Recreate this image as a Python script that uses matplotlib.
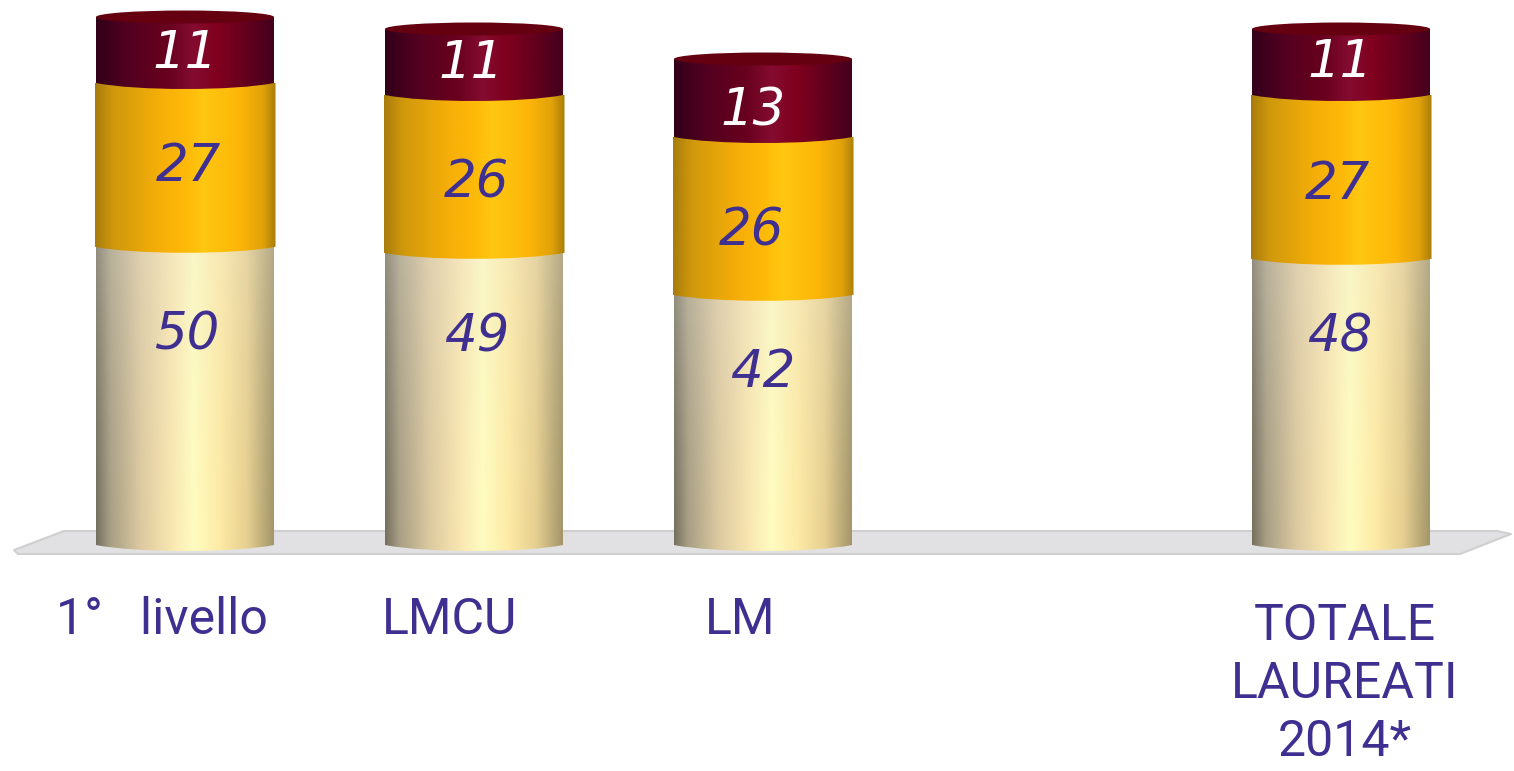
import numpy as np
import matplotlib
matplotlib.use("Agg")
import matplotlib.pyplot as plt
from matplotlib.colors import LinearSegmentedColormap, to_rgb
from matplotlib.patches import Ellipse, PathPatch, Polygon
from matplotlib.path import Path

categories = ["1°   livello", "LMCU", "LM", "", "TOTALE\nLAUREATI\n2014*"]
cream_vals = [50, 49, 42, None, 48]
gold_vals = [27, 26, 26, None, 27]
maroon_vals = [11, 11, 13, None, 11]

# px per value is 6, px per category is 289
W, H = 1514, 771
X0, Y0 = 185, 545
PX_X, PX_Y = 289.0, 6.0

cream_map = LinearSegmentedColormap.from_list("cream", [(0, "#76705f"), (0.08, "#a89f85"), (0.25, "#dcc9a0"), (0.42, "#f8e6b0"),
                                                        (0.55, "#fffcc0"), (0.7, "#fdeaa5"), (0.85, "#e6cf90"), (1, "#a3966a")])
gold_map = LinearSegmentedColormap.from_list("gold", [(0, "#a87c0c"), (0.1, "#cf980c"), (0.35, "#f5ae08"), (0.5, "#feb908"),
                                                      (0.6, "#fec710"), (0.8, "#fdb608"), (0.93, "#e0a208"), (1, "#aa7c0a")])
maroon_map = LinearSegmentedColormap.from_list("maroon", [(0, "#32001a"), (0.2, "#560020"), (0.4, "#68001e"), (0.55, "#840c30"),
                                                          (0.68, "#80001e"), (0.85, "#62001e"), (1, "#44001c")])

purple = "#3f2f91"

fig = plt.figure(figsize=(W / 100, H / 100), dpi=100)
ax = fig.add_axes([0, 0, 1, 1])
ax.set_xlim(-X0 / PX_X, (W - X0) / PX_X)
ax.set_ylim(-(H - Y0) / PX_Y, Y0 / PX_Y)
ax.axis("off")

half_w = 89 / PX_X


def to_x(px):
    return (px - X0) / PX_X


def to_y(px):
    return (Y0 - px) / PX_Y


def segment(x, bottom, top, cmap, extra=0.0, z=3, fade=None):
    # side of the cylinder: flat top, curved bottom edge
    w = half_w + extra
    drop = 8 / PX_Y
    verts = [(x - w, top), (x + w, top), (x + w, bottom),
             (x + w * 0.55, bottom - drop), (x - w * 0.55, bottom - drop), (x - w, bottom), (x - w, top)]
    codes = [Path.MOVETO, Path.LINETO, Path.LINETO, Path.CURVE4, Path.CURVE4, Path.CURVE4, Path.CLOSEPOLY]
    patch = PathPatch(Path(verts, codes), fc="none", ec="none", zorder=z)
    ax.add_patch(patch)
    rgb = cmap(np.linspace(0, 1, 256))[:, :3]
    img = np.repeat(rgb[np.newaxis, :, :], 40, axis=0)
    if fade is not None:
        # paler at the top of the segment
        t = np.linspace(0.4, 0, 40) ** 1.5
        img = img * (1 - t[:, None, None]) + np.array(to_rgb(fade)) * t[:, None, None]
    im = ax.imshow(img, extent=(x - w, x + w, bottom - drop, top), aspect="auto", zorder=z, interpolation="bilinear")
    im.set_clip_path(patch)


# grey floor under the bars
floor = Polygon(np.array([[to_x(64), to_y(531)], [to_x(1497), to_y(531)], [to_x(1511), to_y(534)], [to_x(1460), to_y(554)],
                          [to_x(18), to_y(554)], [to_x(14), to_y(550)]]),
                closed=True, fc="#e1e1e3", ec="#cfcfcf", lw=1.5, joinstyle="round", zorder=1)
ax.add_patch(floor)

for i, name in enumerate(categories):
    if cream_vals[i] is None:
        continue
    a, b, c = cream_vals[i], gold_vals[i], maroon_vals[i]
    segment(i, 0, a, cream_map, z=3, fade="#e8e4dc")
    segment(i, a - 0.3, a + b, gold_map, extra=1.5 / PX_X, z=4)
    segment(i, a + b, a + b + c, maroon_map, z=5)
    ax.add_patch(Ellipse((i, a + b + c), 2 * half_w, 13 / PX_Y, fc="#640010", ec="none", zorder=6))

# value labels do not sit at the middle of their segments in the original
cream_label_px = [(188, 336), (477, 337), (763, 373), None, (1340, 337)]
gold_label_px = [(188, 167), (476, 183), (751, 232), None, (1337, 185)]
maroon_label_px = [(185, 54), (471, 64), (753, 111), None, (1340, 63)]

for vals, spots, col in [(cream_vals, cream_label_px, purple), (gold_vals, gold_label_px, purple), (maroon_vals, maroon_label_px, "white")]:
    for v, pos in zip(vals, spots):
        if pos is None:
            continue
        ax.text(to_x(pos[0]), to_y(pos[1]), str(v), color=col, fontsize=37, style="italic", family="DejaVu Sans",
                ha="center", va="center", zorder=8)

label_px = [(162, 620), (450, 620), (740, 620), None, (1345, 684)]
for name, pos in zip(categories, label_px):
    if pos is None:
        continue
    ax.text(to_x(pos[0]), to_y(pos[1]), name, color=purple, fontsize=36, family="Roboto",
            ha="center", va="center", linespacing=1.27, zorder=8)

fig.savefig("out.png", dpi=100)
